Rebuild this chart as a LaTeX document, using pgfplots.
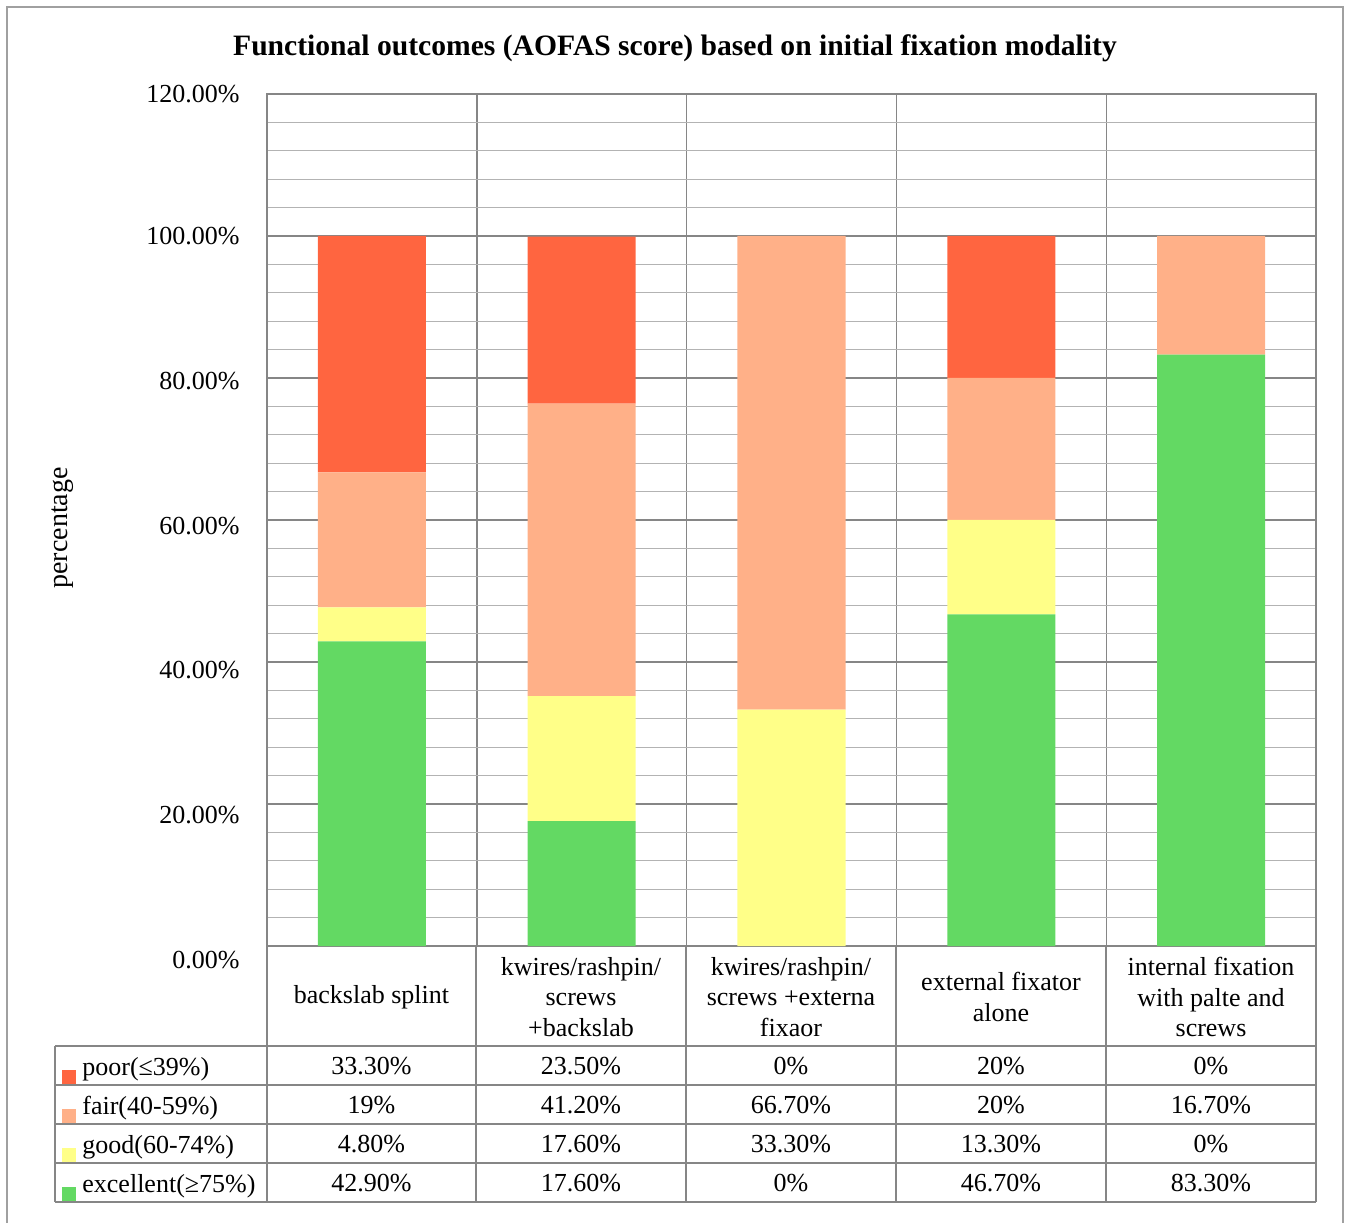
\documentclass[border=0pt]{standalone}
\usepackage{fontspec}
\setmainfont{Liberation Serif}
\usepackage{pgfplots}
\usepackage{pgfplotstable}
\pgfplotsset{compat=1.18}

\definecolor{poorc}{HTML}{FF6540}
\definecolor{fairc}{HTML}{FFB088}
\definecolor{goodc}{HTML}{FFFF88}
\definecolor{excc}{HTML}{63D963}
\definecolor{gridmaj}{HTML}{868686}
\definecolor{gridmin}{HTML}{B3B3B3}
\definecolor{framec}{HTML}{A0A0A0}

% AOFAS outcome shares (%) per fixation modality, categories at x = 0..4
\pgfplotstableread{
x excellent good fair poor
0 42.9 4.8 19.0 33.3
1 17.6 17.6 41.2 23.5
2 0.0 33.3 66.7 0.0
3 46.7 13.3 20.0 20.0
4 83.3 0.0 16.7 0.0
}\aofas

\newcommand{\tabfont}{\fontsize{13}{15.25}\selectfont}

\begin{document}
\begin{tikzpicture}
\useasboundingbox (0,0) rectangle (674.5pt,611pt);
\begin{axis}[
  at={(133.5pt,138pt)}, anchor=south west,
  width=524.5pt, height=426pt, scale only axis,
  xmin=-0.5, xmax=4.5, ymin=0, ymax=120,
  ybar stacked, bar width=0.515,
  xtick={0.5,1.5,2.5,3.5}, xticklabels={},
  xmajorgrids,
  ytick={0,20,...,120}, minor y tick num=4,
  ymajorgrids, yminorgrids,
  major tick length=0pt, minor tick length=0pt,
  major grid style={draw=gridmaj, line width=0.7pt},
  minor grid style={draw=gridmin, line width=0.55pt},
  axis line style={draw=gridmaj, line width=0.7pt},
  /pgf/number format/assume math mode=true,
  yticklabel={\pgfmathprintnumber[fixed,fixed zerofill,precision=2]{\tick}\%},
  yticklabel style={font=\tabfont, anchor=east, inner sep=0pt, xshift=-13.5pt,
    yshift={-max(0,100-\tick)*0.07pt}},
]
\addplot[fill=excc, draw=none] table[x=x, y=excellent]{\aofas};
\addplot[fill=goodc, draw=none] table[x=x, y=good]{\aofas};
\addplot[fill=fairc, draw=none] table[x=x, y=fair]{\aofas};
\addplot[fill=poorc, draw=none] table[x=x, y=poor]{\aofas};
\end{axis}

% title, axis label, frame and data table, in pixel-like units (y downwards)
\begin{scope}[x=0.5pt, y=-0.5pt, yshift=611pt]
  \draw[framec, line width=1pt] (7,1240) -- (7,7) -- (1343,7) -- (1343,1240);
  \node[font=\fontsize{14.8}{18}\selectfont\bfseries] at (675,48)
    {Functional outcomes (AOFAS score) based on initial fixation modality};
  \node[font=\fontsize{14}{16}\selectfont, rotate=90] at (63,528) {percentage};

  % table grid
  \begin{scope}[draw=gridmaj, line width=0.7pt]
    \foreach \xx in {267,476,686,896,1106,1316}
      \draw (\xx,946) -- (\xx,1202);
    \foreach \yy in {1046,1085,1124,1163,1202}
      \draw (55,\yy) -- (1316,\yy);
    \draw (55,1046) -- (55,1202);
  \end{scope}

  % category names
  \begin{scope}[every node/.style={font=\tabfont, align=center}]
    \node at (371.5,997) {backslab splint};
    \node at (581,997) {kwires/rashpin/\\screws\\+backslab};
    \node at (791,997) {kwires/rashpin/\\screws +externa\\fixaor};
    \node at (1001,997) {external fixator\\alone};
    \node at (1211,997) {internal fixation\\with palte and\\screws};
  \end{scope}

  % legend keys and row names
  \foreach \yy/\cc/\tt in {1046/poorc/{poor(≤39\%)}, 1085/fairc/{fair(40-59\%)},
                           1124/goodc/{good(60-74\%)}, 1163/excc/{excellent(≥75\%)}}{
    \fill[\cc] (62,\yy+24) rectangle (76,\yy+38);
    \node[font=\tabfont, anchor=west, inner sep=0pt] at (82,\yy+23) {\tt};
  }

  % table values
  \begin{scope}[every node/.style={font=\tabfont}]
    \foreach \yy/\a/\b/\c/\d/\e in {
        1066/33.30\%/23.50\%/0\%/20\%/0\%,
        1105/19\%/41.20\%/66.70\%/20\%/16.70\%,
        1144/4.80\%/17.60\%/33.30\%/13.30\%/0\%,
        1183/42.90\%/17.60\%/0\%/46.70\%/83.30\%}{
      \node at (371.5,\yy) {\a};
      \node at (581,\yy) {\b};
      \node at (791,\yy) {\c};
      \node at (1001,\yy) {\d};
      \node at (1211,\yy) {\e};
    }
  \end{scope}
\end{scope}
\end{tikzpicture}
\end{document}
